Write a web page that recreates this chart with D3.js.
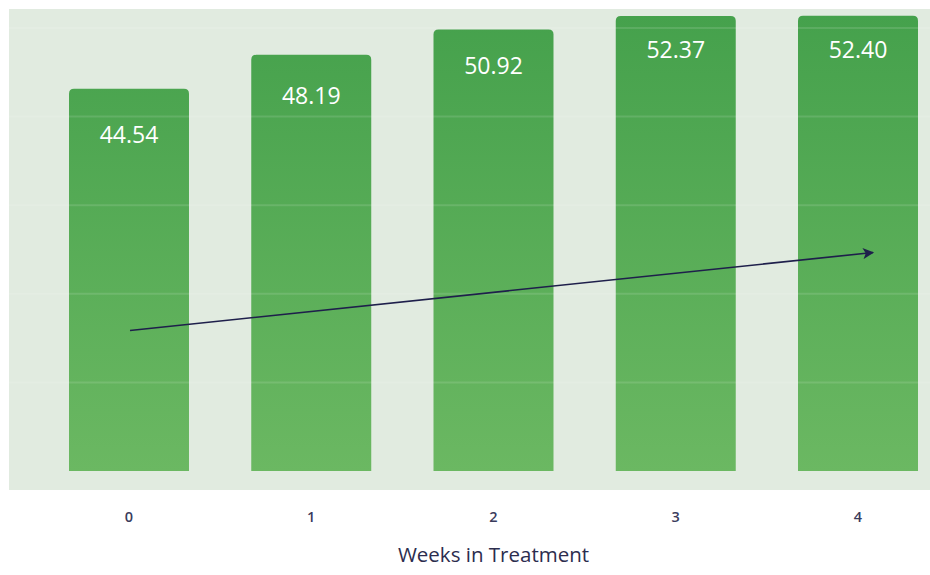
<!DOCTYPE html>
<html>
<head>
<meta charset="utf-8">
<script src="https://cdn.jsdelivr.net/npm/d3@7"></script>
<style>
  html, body { margin: 0; padding: 0; background: #ffffff; }
  svg { display: block; }
</style>
</head>
<body>
<svg id="chart" width="930" height="575"></svg>
<script>
// ---- data ----
const weeks = ["0", "1", "2", "3", "4"];
const scores = [44.54, 48.19, 50.92, 52.37, 52.40];
const xTitle = "Weeks in Treatment";

// ---- layout ----
const W = 930, H = 575;
const panel = { x: 9, y: 9, w: 921, h: 481 };
const plotTop = 0, plotBottom = 471;

const svg = d3.select("#chart");
const defs = svg.append("defs");

const grad = defs.append("linearGradient")
  .attr("id", "barGrad")
  .attr("gradientUnits", "userSpaceOnUse")
  .attr("x1", 0).attr("x2", 0)
  .attr("y1", 15).attr("y2", plotBottom);
grad.append("stop").attr("offset", "0%").attr("stop-color", "#45a14c");
grad.append("stop").attr("offset", "100%").attr("stop-color", "#6bb862");

defs.append("marker")
  .attr("id", "arrowHead")
  .attr("viewBox", "0 0 10 10")
  .attr("refX", 9).attr("refY", 5)
  .attr("markerWidth", 9).attr("markerHeight", 7)
  .attr("markerUnits", "strokeWidth")
  .attr("orient", "auto")
  .append("path").attr("d", "M0,0 L10,5 L0,10 L2.5,5 Z").attr("fill", "#1e1f4b");

// background panel
svg.append("rect")
  .attr("x", panel.x).attr("y", panel.y)
  .attr("width", panel.w).attr("height", panel.h)
  .attr("fill", "#e1ebe0");

// scales
const x = d3.scaleBand().domain(weeks).range([69, 918]).paddingInner(0.3416).paddingOuter(0);
const y = d3.scaleLinear().domain([3.3, 54]).range([plotBottom, plotTop + 1]);
// label position scale (labels sit near the top of each bar)
const yLabel = d3.scaleLinear().domain([d3.min(scores), d3.max(scores)]).range([143, 58]);

// faint gridlines
const gridScale = d3.scaleLinear().domain([0, 5]).range([plotBottom, 28]);
const gridTicks = [1, 2, 3, 4, 5];

// bars
const bw = x.bandwidth();
const r = 5;
svg.append("g").selectAll("path").data(scores).join("path")
  .attr("d", (d, i) => {
    const x0 = x(weeks[i]), x1 = x0 + bw, y0 = y(d), yb = plotBottom;
    return `M${x0},${yb} L${x0},${y0 + r} Q${x0},${y0} ${x0 + r},${y0} L${x1 - r},${y0} Q${x1},${y0} ${x1},${y0 + r} L${x1},${yb} Z`;
  })
  .attr("fill", "url(#barGrad)");

svg.append("g").selectAll("line").data(gridTicks).join("line")
  .attr("x1", panel.x).attr("x2", panel.x + panel.w)
  .attr("y1", d => gridScale(d)).attr("y2", d => gridScale(d))
  .attr("stroke", "#ffffff").attr("stroke-opacity", 0.12).attr("stroke-width", 2);

// value labels
svg.append("g").selectAll("text").data(scores).join("text")
  .attr("x", (d, i) => x(weeks[i]) + bw / 2)
  .attr("y", d => yLabel(d))
  .attr("text-anchor", "middle")
  .attr("font-family", "'Open Sans', sans-serif")
  .attr("font-size", 23)
  .attr("fill", "#ffffff")
  .text(d => d.toFixed(2));

// trend arrow
const last = weeks[weeks.length - 1];
svg.append("line")
  .attr("x1", x(weeks[0]) + bw / 2 + 1).attr("y1", 330.5)
  .attr("x2", x(last) + bw / 2 + 15).attr("y2", 252.5)
  .attr("stroke", "#1e1f4b").attr("stroke-width", 1.6)
  .attr("marker-end", "url(#arrowHead)");

// x axis labels
const axis = d3.axisBottom(x).tickSize(0).tickPadding(0);
const gAxis = svg.append("g").attr("transform", `translate(0, 512)`).call(axis);
gAxis.select(".domain").remove();
gAxis.selectAll("text")
  .attr("font-family", "'Open Sans', sans-serif")
  .attr("font-size", 14.5)
  .attr("font-weight", 600)
  .attr("fill", "#3a3b5c");

// x axis title
svg.append("text")
  .attr("x", (x(weeks[0]) + x(last) + bw) / 2)
  .attr("y", 562)
  .attr("text-anchor", "middle")
  .attr("font-family", "'Open Sans', sans-serif")
  .attr("font-size", 20.5)
  .attr("fill", "#2c2d4e")
  .text(xTitle);
</script>
</body>
</html>
